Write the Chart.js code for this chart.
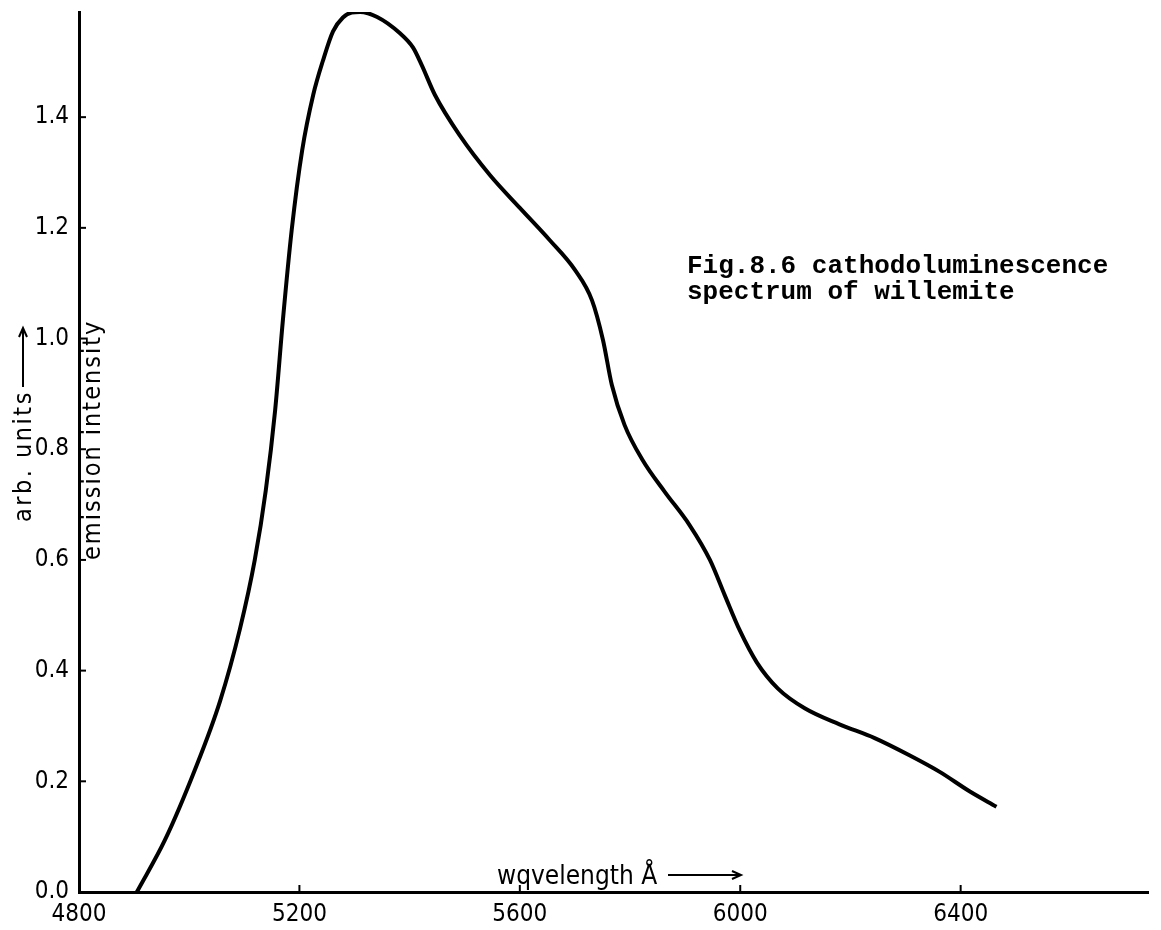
<!DOCTYPE html>
<html>
<head>
<meta charset="utf-8">
<script src="https://cdn.jsdelivr.net/npm/chart.js@4.4.1/dist/chart.umd.min.js"></script>
<style>
  body { margin: 0; background: #fff; }
  canvas { display: block; }
</style>
</head>
<body>
<canvas id="spectrumChart" width="1161" height="930"></canvas>
<script>
// emission curve (wavelength in Angstrom, intensity in arb. units)
const wavelength = [4905, 4956, 5010, 5056, 5092, 5119, 5139, 5156, 5170, 5186,
    5205, 5225, 5243, 5261, 5279, 5295, 5310, 5341, 5382, 5406, 5422,
    5446, 5491, 5546, 5600, 5654, 5700, 5731, 5751, 5767, 5790,
    5823, 5863, 5908, 5945, 5972, 5999, 6030, 6068, 6117, 6180,
    6244, 6307, 6362, 6416, 6465];
const intensity = [0.000, 0.094, 0.220, 0.345, 0.475, 0.600, 0.726, 0.871, 1.033, 1.196,
    1.340, 1.440, 1.503, 1.555, 1.580, 1.589, 1.590, 1.581, 1.552, 1.526, 1.494,
    1.440, 1.367, 1.295, 1.236, 1.178, 1.124, 1.069, 0.997, 0.916, 0.844,
    0.780, 0.723, 0.663, 0.600, 0.536, 0.473, 0.415, 0.368, 0.332, 0.303,
    0.278, 0.247, 0.217, 0.182, 0.154];

const xTickValues = [4800, 5200, 5600, 6000, 6400];
const yTickValues = [0.0, 0.2, 0.4, 0.6, 0.8, 1.0, 1.2, 1.4];

const xTitle = 'wqvelength Å';
const yTitleOuter = 'arb. units';
const yTitleInner = 'emission intensity';
const figCaption = ['Fig.8.6 cathodoluminescence', 'spectrum of willemite'];

const tickFont = "'DejaVu Sans Condensed', 'Liberation Sans Narrow', sans-serif";

// arrow drawn after a piece of text
function drawArrow(ctx, x1, y, x2) {
    ctx.beginPath();
    ctx.moveTo(x1, y);
    ctx.lineTo(x2, y);
    ctx.moveTo(x2 - 9, y - 4);
    ctx.lineTo(x2, y);
    ctx.lineTo(x2 - 9, y + 4);
    ctx.stroke();
}

const decorPlugin = {
    id: 'decor',
    afterDraw(chart) {
        const ctx = chart.ctx;
        const xs = chart.scales.x;
        const ys = chart.scales.y;
        ctx.save();
        ctx.strokeStyle = '#000';
        ctx.lineWidth = 2;

        // small inward tick marks
        xTickValues.forEach(v => {
            let px = xs.getPixelForValue(v);
            ctx.beginPath();
            ctx.moveTo(px, xs.top);
            ctx.lineTo(px, xs.top - 7);
            ctx.stroke();
        });
        yTickValues.forEach(v => {
            let py = ys.getPixelForValue(v);
            ctx.beginPath();
            ctx.moveTo(ys.right, py);
            ctx.lineTo(ys.right + 7, py);
            ctx.stroke();
        });

        ctx.fillStyle = '#000';
        ctx.textBaseline = 'alphabetic';
        ctx.textAlign = 'left';

        // x title sitting on the axis, with arrow
        ctx.font = '26px ' + tickFont;
        ctx.fillText(xTitle, 497, 884);
        drawArrow(ctx, 668, 875, 741);

        // y titles, rotated
        ctx.font = '25px ' + tickFont;
        ctx.letterSpacing = '2.5px';
        ctx.save();
        ctx.translate(31, 522);
        ctx.rotate(-Math.PI / 2);
        ctx.fillText(yTitleOuter, 0, 0);
        drawArrow(ctx, 135, -8, 194);
        ctx.restore();

        ctx.letterSpacing = '2px';
        ctx.save();
        ctx.translate(100, 560);
        ctx.rotate(-Math.PI / 2);
        ctx.fillText(yTitleInner, 0, 0);
        ctx.restore();
        ctx.letterSpacing = '0px';

        // typewritten caption
        ctx.font = "bold 26px 'Liberation Mono', monospace";
        ctx.fillText(figCaption[0], 687, 273);
        ctx.fillText(figCaption[1], 687, 299);
        ctx.restore();
    }
};

const ctx = document.getElementById('spectrumChart').getContext('2d');
const spectrumChart = new Chart(ctx, {
    type: 'line',
    data: {
        datasets: [{
            data: wavelength.map((w, i) => ({ x: w, y: intensity[i] })),
            borderColor: '#000',
            borderWidth: 4,
            pointRadius: 0,
            cubicInterpolationMode: 'monotone',
            fill: false
        }]
    },
    options: {
        responsive: false,
        animation: false,
        devicePixelRatio: 1,
        layout: { padding: { top: 12, right: 13, left: 0, bottom: 0 } },
        plugins: { legend: { display: false }, tooltip: { enabled: false } },
        scales: {
            x: {
                type: 'linear',
                min: 4800,
                max: 6740,
                afterBuildTicks: s => { s.ticks = xTickValues.map(v => ({ value: v })); },
                afterFit: s => { s.height = 38; s.paddingLeft = 0; s.paddingRight = 0; },
                grid: { drawOnChartArea: false, drawTicks: false },
                border: { display: true, color: '#000', width: 3 },
                ticks: {
                    padding: 8,
                    color: '#000',
                    maxRotation: 0,
                    font: { family: tickFont, size: 24 },
                    callback: v => String(v)
                }
            },
            y: {
                type: 'linear',
                min: 0,
                max: 1.59,
                afterBuildTicks: s => { s.ticks = yTickValues.map(v => ({ value: v })); },
                afterFit: s => { s.width = 79; s.paddingTop = 0; s.paddingBottom = 0; },
                grid: { drawOnChartArea: false, drawTicks: false },
                border: { display: true, color: '#000', width: 3 },
                ticks: {
                    padding: 10,
                    color: '#000',
                    font: { family: tickFont, size: 24 },
                    callback: v => v.toFixed(1)
                }
            }
        }
    },
    plugins: [decorPlugin]
});
</script>
</body>
</html>
